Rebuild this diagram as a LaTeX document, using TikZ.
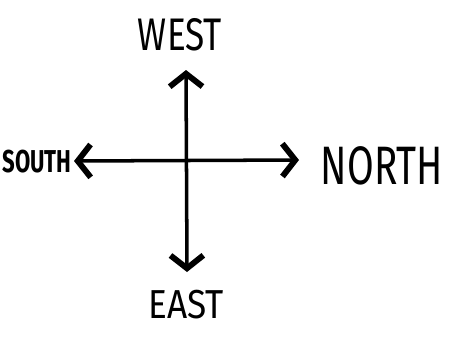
\documentclass[tikz,border=0pt]{standalone}
\usepackage{fontspec}
\setmainfont{Fira Sans}
\usetikzlibrary{arrows.meta}
\tikzset{
  compass/.style={line width=3pt, line cap=round,
    {Straight Barb[length=11pt, width=28pt, line width=5pt]}-{Straight Barb[length=11pt, width=28pt, line width=5pt]}},
  dirlabel/.style={inner sep=0pt, font=\fontsize{30}{30}\selectfont}
}
\begin{document}
\begin{tikzpicture}[x=0.03cm, y=-0.03cm]
  \useasboundingbox (0,0) rectangle (461,350);

  % Las puntas de la cruz
  \coordinate (tipW) at (186,70);
  \coordinate (tipE) at (187,272);
  \coordinate (tipS) at (74,161);
  \coordinate (tipN) at (299,160);

  % Flechas
  \draw[compass] (tipW) -- (tipE);
  \draw[compass] (tipS) -- (tipN);

  % Etiquetas de los puntos cardinales
  \node[dirlabel] (west) at (180,35) {\scalebox{1}[1.3]{WEST}};
  \node[dirlabel] (east) at (186,305) {\scalebox{1}[1.15]{EAST}};
  \node[dirlabel, font=\fontsize{33}{33}\selectfont] (north) at (382,166) {\scalebox{1}[1.4]{NORTH}};
  \node[dirlabel, font=\fontsize{18}{18}\selectfont\bfseries] (south) at (37,162) {\scalebox{1.05}[1.5]{SOUTH}};
\end{tikzpicture}
\end{document}
